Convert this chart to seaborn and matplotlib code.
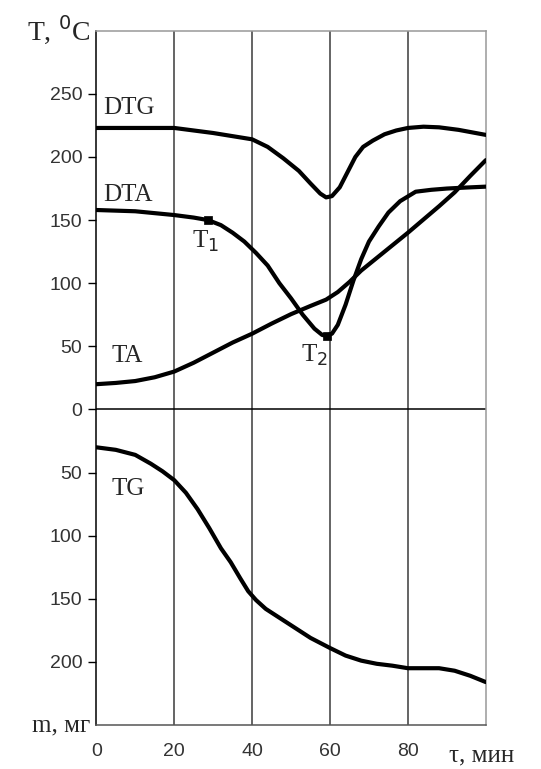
import numpy as np
import pandas as pd
import matplotlib
matplotlib.use("Agg")
import matplotlib.pyplot as plt
import seaborn as sns

# curves (time in min, value in plot units; TG drawn downward)
dtg_t = [0, 10, 20, 30, 40, 44, 48, 52, 55, 57.5, 59, 60.5, 62.5, 64.5, 66.5, 68.5, 71, 74, 77, 80, 84, 88, 93, 100]
dtg_v = [223, 223, 223, 219, 214, 208, 199, 189, 179, 171, 168, 169, 176, 188, 200, 208, 213, 218, 221, 223, 224, 223.5, 221.5, 217.5]

dta_t = [0, 10, 20, 25, 28.7, 32, 35, 38, 41, 44, 47, 50, 53, 56, 58, 59.1, 60.5, 62, 64, 66, 68, 70, 72.5, 75, 78, 82, 86, 90, 95, 100]
dta_v = [158, 157, 154, 152, 150, 146, 140, 133, 124, 114, 100, 88, 75, 64, 59, 58.5, 60, 67, 83, 102, 119, 133, 145, 156, 165, 172.5, 174, 175, 175.8, 176.5]

ta_t = [0, 5, 10, 15, 20, 25, 30, 35, 40, 45, 50, 55, 59, 62, 65, 68, 72, 76, 80, 84, 88, 92, 96, 100]
ta_v = [20, 21, 22.5, 25.5, 30, 37, 45, 53, 60, 68, 75.5, 82, 87, 93, 101, 110, 120, 130, 140, 150.5, 161, 172, 185, 197.5]

tg_t = [0, 5, 10, 14, 17, 20, 23, 26, 29, 32, 34.5, 37, 39, 41, 43.5, 47, 51, 55, 60, 64, 68, 72, 76, 80, 84, 88, 92, 96, 100]
tg_m = [30, 32, 36, 43, 49, 56, 66, 79, 94, 110, 121, 134, 144, 151, 158, 165, 173, 181, 189, 195, 199, 201.5, 203, 205, 205, 205, 207, 211, 216]

t_marks = [28.7, 59.1]
v_marks = [150, 58.5]

y_ticks = [250, 200, 150, 100, 50, 0, -50, -100, -150, -200]
x_ticks = [0, 20, 40, 60, 80]

sns.set_style("white")

fig = plt.figure(figsize=(5.41, 7.69), dpi=100)
ax = fig.add_axes([0.178, 0.0572, 0.72, 0.9028])

# grid lines
for xv in [20, 40, 60, 80]:
    ax.axvline(xv, color="#3a3a3a", lw=1.1, zorder=1)
ax.axhline(0, color="k", lw=1.1, zorder=1)

curves = [
    (dtg_t, dtg_v),
    (dta_t, dta_v),
    (ta_t, ta_v),
    (tg_t, [-m for m in tg_m]),
]
for xs, ys in curves:
    df = pd.DataFrame({"t": xs, "v": ys})
    sns.lineplot(data=df, x="t", y="v", ax=ax, color="k", lw=3.0,
                 sort=False, estimator=None, zorder=3)

sns.scatterplot(x=t_marks, y=v_marks, ax=ax, color="k", marker="s", s=40,
                edgecolor="k", zorder=4)

ax.set_xlim(0, 100)
ax.set_ylim(-250, 300)
ax.set_xticks(x_ticks)
ax.set_xticklabels([str(v) for v in x_ticks])
ax.set_yticks(y_ticks)
ax.set_yticklabels([str(abs(v)) for v in y_ticks])
ax.set_xlabel("")
ax.set_ylabel("")

ax.tick_params(axis="y", direction="out", length=6, width=1, color="k",
               labelsize=14, labelcolor="#333333", pad=4, left=True)
ax.tick_params(axis="x", length=0, labelsize=14, labelcolor="#333333", pad=13)
for lab in ax.get_xticklabels() + ax.get_yticklabels():
    lab.set_fontfamily("Liberation Sans")

ax.spines["left"].set_color("k")
ax.spines["bottom"].set_color("#555555")
ax.spines["top"].set_color("#999999")
ax.spines["right"].set_color("#999999")
for s in ax.spines.values():
    s.set_linewidth(1.1)

serif = "Liberation Serif"
ax.text(-1.5, 300, "T, $^0$C", fontsize=20, family=serif, ha="right", va="center", clip_on=False)
ax.text(-1.5, -250, "m, мг", fontsize=18, family=serif, ha="right", va="center", clip_on=False)
ax.text(90.5, -274, "τ, мин", fontsize=18, family=serif, ha="left", va="center", clip_on=False)

ax.text(1.8, 239, "DTG", fontsize=18, family=serif, ha="left", va="center")
ax.text(1.8, 170, "DTA", fontsize=18, family=serif, ha="left", va="center")
ax.text(4.0, 42, "TA", fontsize=18, family=serif, ha="left", va="center")
ax.text(4.0, -63, "TG", fontsize=18, family=serif, ha="left", va="center")
ax.text(24.5, 133, "T$_1$", fontsize=18, family=serif, ha="left", va="center")
ax.text(52.5, 43, "T$_2$", fontsize=18, family=serif, ha="left", va="center")

fig.savefig("out.png", dpi=100)
